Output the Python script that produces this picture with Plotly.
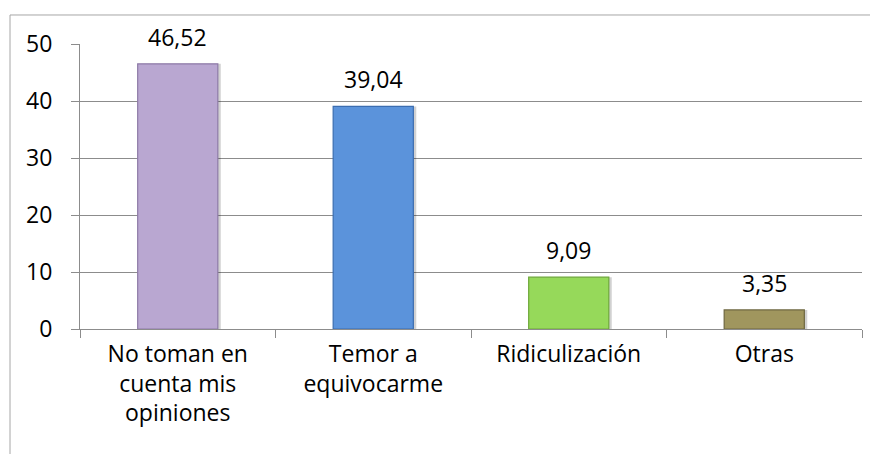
import plotly.graph_objects as go

categories = ["No toman en<br>cuenta mis<br>opiniones", "Temor a<br>equivocarme", "Ridiculización", "Otras"]
values = [46.52, 39.04, 9.09, 3.35]
bar_colors = ["#B9A7D1", "#5B93DB", "#96D95A", "#A0965E"]
edge_colors = ["#8E7BA8", "#3B6DB0", "#6EA83A", "#6E6740"]

grid = "#8C8C8C"
font_family = "'Open Sans', Lato, sans-serif"
fsize = 23

fig = go.Figure()

# soft shadow behind each bar
fig.add_trace(go.Bar(
    x=categories, y=values,
    width=0.41, offset=-0.19,
    marker=dict(color="rgba(0,0,0,0.18)", line=dict(width=0)),
    hoverinfo="skip", showlegend=False,
))

fig.add_trace(go.Bar(
    x=categories, y=values,
    width=0.41, offset=-0.205,
    marker=dict(color=bar_colors, line=dict(color=edge_colors, width=1.2)),
    hoverinfo="x+y",
    showlegend=False,
))

# value labels, sitting a little above each bar
for c, v in zip(categories, values):
    fig.add_annotation(
        x=c, y=v, text=f"{v:.2f}".replace(".", ","),
        showarrow=False, yanchor="bottom", yshift=9,
        font=dict(size=fsize, color="#000000", family=font_family),
    )

# page body has an 8px margin, so the figure starts at (8, 8)
fig.update_layout(
    width=878, height=454,
    margin=dict(l=72, r=24, t=36, b=133),
    paper_bgcolor="white", plot_bgcolor="white",
    barmode="overlay",
    separators=",.",
    font=dict(family=font_family, size=fsize, color="#000000"),
    showlegend=False,
    shapes=[dict(
        type="rect", xref="paper", yref="paper",
        x0=-0.0895, x1=1.03, y0=-0.47, y1=1.1018,
        line=dict(color="#A6A6A6", width=1), fillcolor="rgba(0,0,0,0)",
        layer="below",
    )],
)

fig.update_xaxes(
    type="category", tickson="boundaries",
    ticks="outside", ticklen=8, tickcolor=grid,
    showline=True, linecolor=grid, linewidth=1,
    showgrid=False,
    ticklabelstandoff=4,
    tickfont=dict(size=fsize, family=font_family),
)

fig.update_yaxes(
    range=[0, 50], dtick=10,
    ticks="outside", ticklen=8, tickcolor=grid,
    showline=True, linecolor=grid, linewidth=1,
    showgrid=True, gridcolor=grid, gridwidth=1,
    zeroline=False,
    ticklabelstandoff=14,
    tickfont=dict(size=fsize, family=font_family),
)

fig.write_html("out.html")
